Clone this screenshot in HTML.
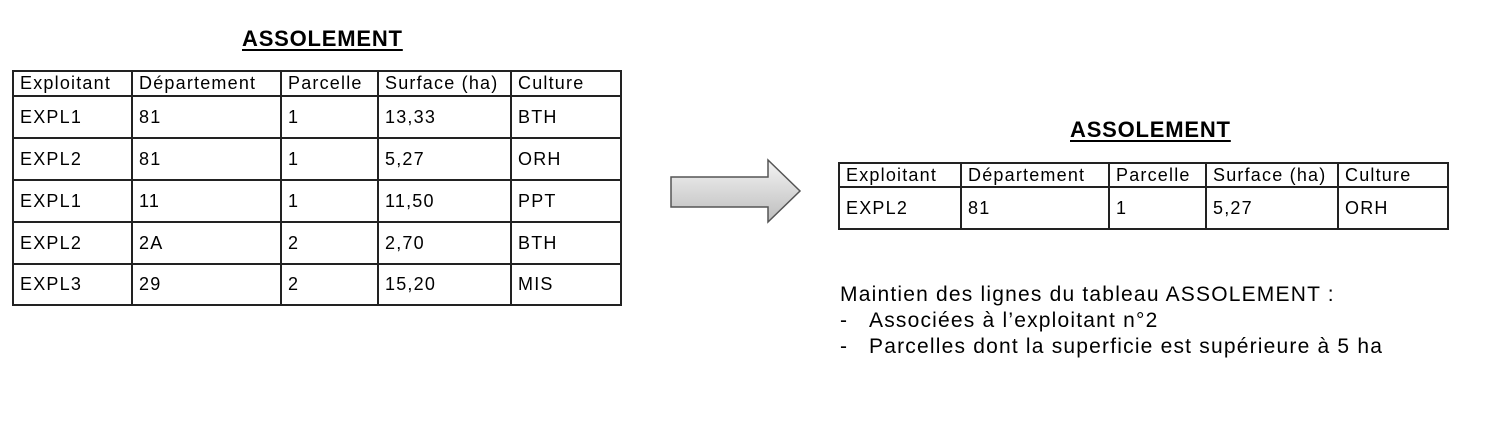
<!DOCTYPE html>
<html><head><meta charset="utf-8"><style>
body{margin:0;width:1487px;height:435px;background:#fff;position:relative;font-family:"Liberation Sans",sans-serif;color:#000;overflow:hidden}
.t{position:absolute;font-weight:bold;font-size:22px;letter-spacing:0.8px;text-decoration:underline;text-decoration-thickness:2px;text-underline-offset:3px}
table{position:absolute;border-collapse:collapse;font-size:18px;letter-spacing:1.2px;table-layout:fixed}
td{border:2px solid #222;padding:0 0 0 6px;vertical-align:middle;white-space:nowrap;overflow:hidden}
.p{position:absolute;font-size:21px;letter-spacing:1.2px;white-space:nowrap}
</style></head><body>
<div class="t" style="left:242px;top:26px">ASSOLEMENT</div>
<table style="left:12px;top:70px;width:608px">
<colgroup><col style="width:119px"><col style="width:149px"><col style="width:97px"><col style="width:133px"><col style="width:110px"></colgroup>
<tr style="height:25px"><td>Exploitant</td><td>Département</td><td>Parcelle</td><td>Surface (ha)</td><td>Culture</td></tr>
<tr style="height:42px"><td>EXPL1</td><td>81</td><td>1</td><td>13,33</td><td>BTH</td></tr>
<tr style="height:42px"><td>EXPL2</td><td>81</td><td>1</td><td>5,27</td><td>ORH</td></tr>
<tr style="height:42px"><td>EXPL1</td><td>11</td><td>1</td><td>11,50</td><td>PPT</td></tr>
<tr style="height:42px"><td>EXPL2</td><td>2A</td><td>2</td><td>2,70</td><td>BTH</td></tr>
<tr style="height:41px"><td>EXPL3</td><td>29</td><td>2</td><td>15,20</td><td>MIS</td></tr>
</table>
<svg style="position:absolute;left:0;top:0" width="1487" height="435">
<defs><linearGradient id="g" x1="0" y1="0" x2="0" y2="1"><stop offset="0" stop-color="#f4f4f4"/><stop offset="1" stop-color="#bdbdbd"/></linearGradient></defs>
<polygon points="671,177 768,177 768,160 800,191 768,222 768,207 671,207" fill="url(#g)" stroke="#555" stroke-width="1.5"/>
</svg>
<div class="t" style="left:1070px;top:117px">ASSOLEMENT</div>
<table style="left:838px;top:162px;width:609px">
<colgroup><col style="width:122px"><col style="width:148px"><col style="width:97px"><col style="width:132px"><col style="width:110px"></colgroup>
<tr style="height:24px"><td>Exploitant</td><td>Département</td><td>Parcelle</td><td>Surface (ha)</td><td>Culture</td></tr>
<tr style="height:42px"><td>EXPL2</td><td>81</td><td>1</td><td>5,27</td><td>ORH</td></tr>
</table>
<div class="p" style="left:840px;top:283px">Maintien des lignes du tableau ASSOLEMENT :</div>
<div class="p" style="left:840px;top:309px">-</div><div class="p" style="left:869px;top:309px">Associées à l’exploitant n°2</div>
<div class="p" style="left:840px;top:335px">-</div><div class="p" style="left:869px;top:335px">Parcelles dont la superficie est supérieure à 5 ha</div>
</body></html>
